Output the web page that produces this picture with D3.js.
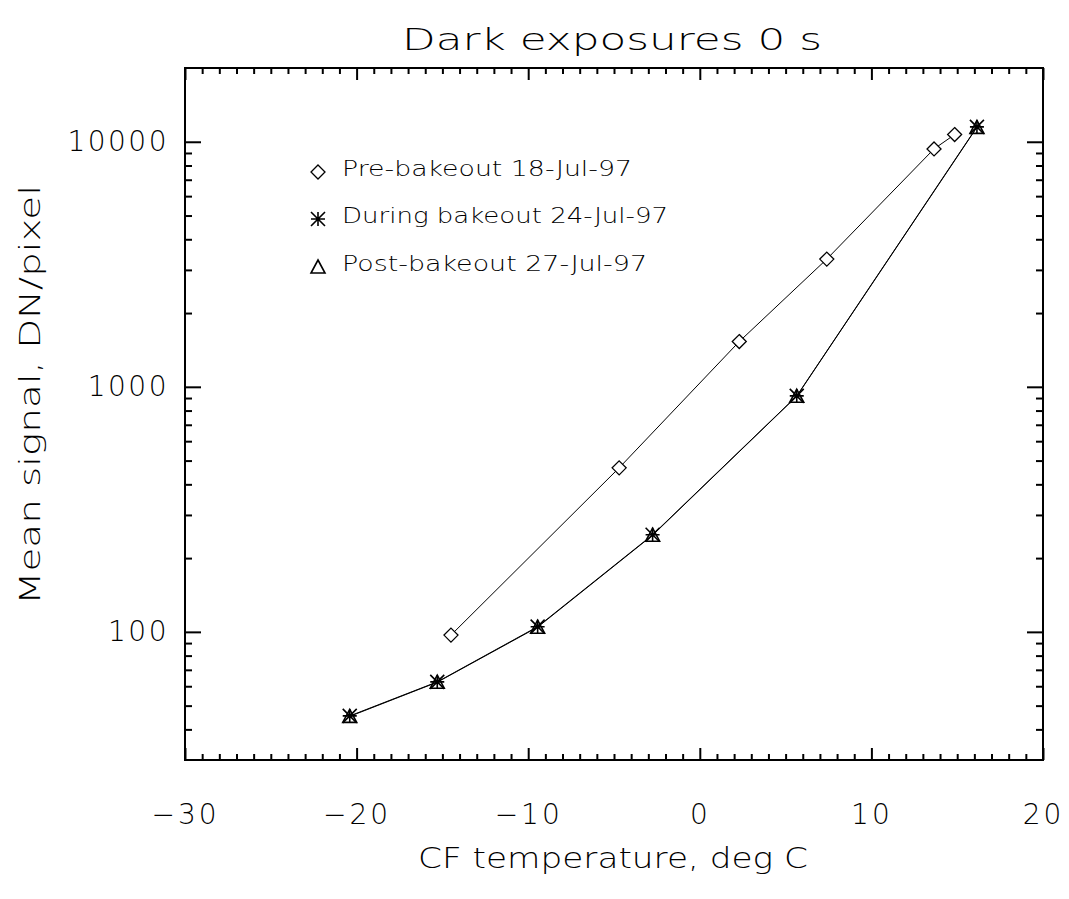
<!DOCTYPE html>
<html><head><meta charset="utf-8">
<script src="https://cdn.jsdelivr.net/npm/d3@7"></script>
<style>body{margin:0;background:#fff}svg text{font-family:"DejaVu Sans",sans-serif;font-weight:200;fill:#000}</style>
</head><body>
<svg id="c" width="1069" height="899"></svg>
<script>
const preTemp   = [-14.5, -4.7, 2.3, 7.4, 13.65, 14.85];
const preSignal = [97, 467, 1530, 3320, 9350, 10700];
const durTemp   = [-20.4, -15.3, -9.45, -2.75, 5.65, 16.15];
const durSignal = [45.4, 62.5, 105, 249, 918, 11500];
const postTemp  = [-20.4, -15.3, -9.45, -2.75, 5.65, 16.15];
const postSignal= [45.2, 62.3, 104.5, 248, 915, 11450];
const xMajor = [-30, -20, -10, 0, 10, 20];
const yMajor = [100, 1000, 10000];
const legendLabels = ["Pre-bakeout 18-Jul-97", "During bakeout 24-Jul-97", "Post-bakeout 27-Jul-97"];
const legendWidths = [290, 326, 305];

const svg = d3.select("#c");
const L=185,R=1043,T=68,B=760;
const x = d3.scaleLinear().domain([-30,20]).range([L,R]);
const y = d3.scaleLog().domain([30,20000]).range([B,T]);

const xMinor = d3.range(-30,21,1).filter(v=>v%10!==0);
const yMinor = [];
[10,100,1000,10000].forEach(d=>{for(let k=2;k<=9;k++){const v=k*d; if(v>30&&v<20000) yMinor.push(v);}});

function styleAxis(g){
  g.select(".domain").remove();
  g.selectAll(".tick line").attr("stroke","#000").attr("stroke-width",2);
}
const fmtX = v => (v<0?"\u2212":"")+Math.abs(v);

// bottom
svg.append("g").attr("transform",`translate(0,${B})`)
  .call(d3.axisBottom(x).tickValues(xMajor).tickSize(-12).tickPadding(44).tickFormat(fmtX))
  .call(styleAxis).call(g=>g.selectAll("text").attr("font-size",28).attr("letter-spacing",3));
svg.append("g").attr("transform",`translate(0,${B})`)
  .call(d3.axisBottom(x).tickValues(xMinor).tickSize(-6).tickFormat("")).call(styleAxis);
// top
svg.append("g").attr("transform",`translate(0,${T})`)
  .call(d3.axisTop(x).tickValues(xMajor).tickSize(-12).tickFormat("")).call(styleAxis);
svg.append("g").attr("transform",`translate(0,${T})`)
  .call(d3.axisTop(x).tickValues(xMinor).tickSize(-6).tickFormat("")).call(styleAxis);
// left
svg.append("g").attr("transform",`translate(${L},0)`)
  .call(d3.axisLeft(y).tickValues(yMajor).tickSize(-16).tickPadding(16).tickFormat(d3.format("d")))
  .call(styleAxis).call(g=>g.selectAll("text").attr("font-size",28).attr("letter-spacing",2.5));
svg.append("g").attr("transform",`translate(${L},0)`)
  .call(d3.axisLeft(y).tickValues(yMinor).tickSize(-7).tickFormat("")).call(styleAxis);
// right
svg.append("g").attr("transform",`translate(${R},0)`)
  .call(d3.axisRight(y).tickValues(yMajor).tickSize(-16).tickFormat("")).call(styleAxis);
svg.append("g").attr("transform",`translate(${R},0)`)
  .call(d3.axisRight(y).tickValues(yMinor).tickSize(-7).tickFormat("")).call(styleAxis);

svg.append("rect").attr("x",L).attr("y",T).attr("width",R-L).attr("height",B-T)
  .attr("fill","none").attr("stroke","#000").attr("stroke-width",2);

// titles
svg.append("text").attr("x",612).attr("y",50).attr("text-anchor","middle")
  .attr("font-size",30).attr("textLength",420).attr("lengthAdjust","spacingAndGlyphs").text("Dark exposures 0 s");
svg.append("text").attr("x",613).attr("y",868).attr("text-anchor","middle")
  .attr("font-size",28).attr("textLength",390).attr("lengthAdjust","spacingAndGlyphs").text("CF temperature, deg C");
svg.append("text").attr("transform","translate(40,395) rotate(-90)").attr("text-anchor","middle")
  .attr("font-size",28).attr("textLength",420).attr("lengthAdjust","spacingAndGlyphs").text("Mean signal, DN/pixel");

const line = d3.line().x(d=>x(d[0])).y(d=>y(d[1]));
const series = [
  {t:preTemp,s:preSignal,m:"diamond"},
  {t:durTemp,s:durSignal,m:"star"},
  {t:postTemp,s:postSignal,m:"tri"}
];
function marker(g,type,cx,cy){
  if(type==="diamond"){
    g.append("path").attr("d",`M${cx},${cy-7}L${cx+7},${cy}L${cx},${cy+7}L${cx-7},${cy}Z`)
      .attr("fill","#fff").attr("stroke","#000").attr("stroke-width",1.3);
  } else if(type==="star"){
    const r=7,p=[];
    p.push(`M${cx-r},${cy}L${cx+r},${cy}`,`M${cx},${cy-r}L${cx},${cy+r}`,
      `M${cx-r},${cy-r}L${cx+r},${cy+r}`,`M${cx-r},${cy+r}L${cx+r},${cy-r}`);
    g.append("path").attr("d",p.join("")).attr("stroke","#000").attr("stroke-width",1.6).attr("fill","none");
  } else {
    g.append("path").attr("d",`M${cx},${cy-7}L${cx+7},${cy+6}L${cx-7},${cy+6}Z`)
      .attr("fill","none").attr("stroke","#000").attr("stroke-width",1.6);
  }
}
series.forEach(sr=>{
  const pts = sr.t.map((t,i)=>[t,sr.s[i]]);
  svg.append("path").datum(pts).attr("d",line).attr("fill","none").attr("stroke","#000").attr("stroke-width",1);
});
series.forEach(sr=>{
  const g=svg.append("g");
  sr.t.forEach((t,i)=>marker(g,sr.m,x(t),y(sr.s[i])));
});

// legend
const lg = svg.append("g");
const legY=[168,215,263];
legendLabels.forEach((lab,i)=>{
  marker(lg,series[i].m,318,legY[i]+4);
  lg.append("text").attr("x",342).attr("y",legY[i]+8).attr("font-size",21)
    .attr("textLength",legendWidths[i]).attr("lengthAdjust","spacingAndGlyphs").text(lab);
});
</script>
</body></html>
